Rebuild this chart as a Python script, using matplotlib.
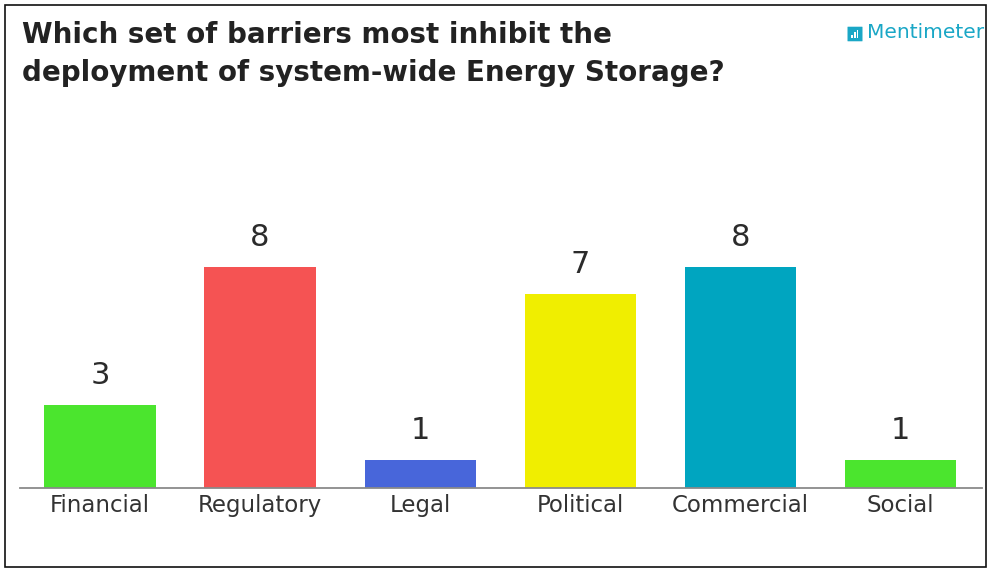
import matplotlib
matplotlib.use("Agg")
import matplotlib.pyplot as plt
from matplotlib.patches import Rectangle, FancyBboxPatch

# poll results
categories = ["Financial", "Regulatory", "Legal", "Political", "Commercial", "Social"]
votes = [3, 8, 1, 7, 8, 1]
bar_colors = ["#4be52e", "#f55353", "#4866da", "#f0ee00", "#00a5c0", "#4be52e"]

title = "Which set of barriers most inhibit the\ndeployment of system-wide Energy Storage?"

W, H = 994, 569
fig = plt.figure(figsize=(W / 100, H / 100), dpi=100)
fig.patch.set_facecolor("white")

# outer frame
fig.add_artist(Rectangle((5 / W, 1 - 567 / H), 981 / W, 562 / H, transform=fig.transFigure,
                         fill=False, edgecolor="#111111", linewidth=1.2))

# axes: baseline at y=488px, bars centred every 160px starting at x=100
ax = fig.add_axes([20 / W, 1 - 488 / H, 962 / W, 338 / H])
x = list(range(len(categories)))
ax.bar(x, votes, width=0.695, color=bar_colors)
ax.set_xlim(-0.5, 5.51)
ax.set_ylim(0, 338 / 27.65)

for xi, v in zip(x, votes):
    ax.text(xi, v + 0.55, str(v), ha="center", va="bottom", fontsize=22, color="#2b2b2b")

ax.set_xticks(x)
ax.set_xticklabels(categories, fontsize=16.5, color="#333333")
ax.tick_params(axis="x", length=0, pad=4)
ax.set_yticks([])
for side in ["top", "right", "left"]:
    ax.spines[side].set_visible(False)
ax.spines["bottom"].set_color("#8a8a8a")
ax.spines["bottom"].set_linewidth(1.3)

fig.text(22 / W, 1 - 21 / H, title, ha="left", va="top", fontsize=20, fontweight="bold",
         color="#222222", linespacing=1.45)

# Mentimeter mark
fig.add_artist(FancyBboxPatch((848 / W, 1 - 41 / H), 14 / W, 14 / H, transform=fig.transFigure,
                              boxstyle="round,pad=0.0005", facecolor="#1aa7c6", edgecolor="none"))
for i, hgt in enumerate([3, 5, 7]):
    fig.add_artist(Rectangle(((851 + i * 2.8) / W, 1 - 37.5 / H), 1.8 / W, hgt / H,
                             transform=fig.transFigure, facecolor="white", edgecolor="none"))
fig.text(867 / W, 1 - 33 / H, "Mentimeter", ha="left", va="center", fontsize=14.5,
         color="#1aa7c6")

fig.savefig("out.png", dpi=100, facecolor="white")
